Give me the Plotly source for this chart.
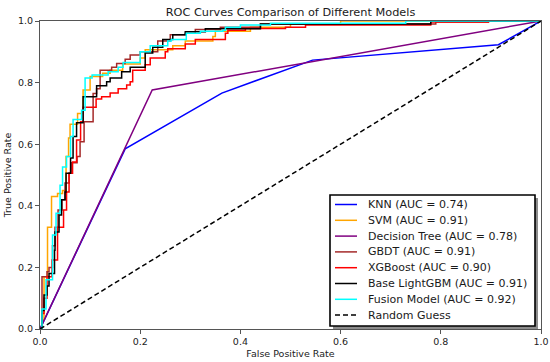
import plotly.graph_objects as go

# ---------------- data ----------------
chart_title = "ROC Curves Comparison of Different Models"
x_title = "False Positive Rate"
y_title = "True Positive Rate"
tick_values = [0.0, 0.2, 0.4, 0.6, 0.8, 1.0]
tick_labels = ["0.0", "0.2", "0.4", "0.6", "0.8", "1.0"]

model_names = ["KNN", "SVM", "Decision Tree", "GBDT", "XGBoost", "Base LightGBM", "Fusion Model"]
auc_values = [0.74, 0.91, 0.78, 0.91, 0.90, 0.91, 0.92]
model_colors = ["#0000ff", "#ffa500", "#800080", "#a52a2a", "#ff0000", "#000000", "#00ffff"]
baseline_name = "Random Guess"

knn_fpr = [0.0, 0.170, 0.363, 0.544, 0.915, 1.0]
knn_tpr = [0.0, 0.585, 0.766, 0.873, 0.923, 1.0]

dt_fpr = [0.0, 0.224, 1.0]
dt_tpr = [0.0, 0.776, 1.0]

svm_fpr = [0.0, 0.004, 0.008, 0.015, 0.023, 0.035, 0.045, 0.052, 0.057, 0.060, 0.075, 0.086, 0.100,
           0.125, 0.140, 0.165, 0.200, 0.210, 0.265, 0.290, 0.345, 0.350, 0.420, 0.500, 0.600, 1.0]
svm_tpr = [0.0, 0.030, 0.170, 0.330, 0.430, 0.440, 0.450, 0.560, 0.620, 0.665, 0.700, 0.776, 0.820,
           0.830, 0.840, 0.860, 0.880, 0.907, 0.920, 0.935, 0.950, 0.967, 0.980, 0.990, 1.000, 1.0]

gbdt_fpr = [0.0, 0.004, 0.014, 0.018, 0.025, 0.030, 0.036, 0.044, 0.050, 0.058, 0.063, 0.074, 0.080,
            0.088, 0.106, 0.113, 0.120, 0.143, 0.153, 0.170, 0.180, 0.200, 0.235, 0.260, 0.290, 0.310,
            0.360, 0.440, 0.790, 0.895, 1.0]
gbdt_tpr = [0.0, 0.170, 0.186, 0.200, 0.270, 0.330, 0.386, 0.420, 0.474, 0.506, 0.540, 0.560, 0.608,
            0.673, 0.765, 0.780, 0.840, 0.850, 0.862, 0.876, 0.890, 0.900, 0.935, 0.955, 0.960, 0.972,
            0.980, 0.990, 0.997, 1.000, 1.0]

xgb_fpr = [0.0, 0.004, 0.008, 0.014, 0.024, 0.035, 0.047, 0.053, 0.058, 0.065, 0.073, 0.081, 0.086,
           0.112, 0.123, 0.140, 0.156, 0.173, 0.180, 0.185, 0.210, 0.220, 0.250, 0.255, 0.290, 0.310,
           0.370, 0.375, 0.410, 0.490, 0.530, 0.780, 0.895, 1.0]
xgb_tpr = [0.0, 0.050, 0.100, 0.170, 0.224, 0.330, 0.386, 0.445, 0.506, 0.542, 0.614, 0.673, 0.720,
           0.747, 0.754, 0.766, 0.780, 0.792, 0.803, 0.840, 0.858, 0.880, 0.900, 0.910, 0.925, 0.940,
           0.960, 0.970, 0.976, 0.980, 0.987, 0.997, 1.000, 1.0]

lgbm_fpr = [0.0, 0.004, 0.008, 0.014, 0.018, 0.029, 0.030, 0.038, 0.043, 0.050, 0.052, 0.061, 0.066,
            0.073, 0.086, 0.113, 0.133, 0.140, 0.163, 0.180, 0.210, 0.225, 0.245, 0.265, 0.290, 0.330,
            0.440, 0.780, 1.0]
lgbm_tpr = [0.0, 0.060, 0.110, 0.140, 0.180, 0.256, 0.315, 0.370, 0.420, 0.445, 0.506, 0.555, 0.625,
            0.670, 0.754, 0.790, 0.803, 0.815, 0.835, 0.850, 0.896, 0.915, 0.940, 0.955, 0.965, 0.975,
            0.990, 1.000, 1.0]

fusion_fpr = [0.0, 0.004, 0.012, 0.025, 0.032, 0.040, 0.045, 0.053, 0.061, 0.066, 0.083, 0.090, 0.104,
              0.136, 0.156, 0.166, 0.200, 0.220, 0.255, 0.262, 0.292, 0.320, 0.365, 0.370, 0.400, 0.460,
              0.730, 1.0]
fusion_tpr = [0.0, 0.065, 0.160, 0.305, 0.376, 0.467, 0.526, 0.560, 0.625, 0.680, 0.710, 0.815, 0.825,
              0.835, 0.850, 0.865, 0.900, 0.920, 0.935, 0.940, 0.960, 0.967, 0.970, 0.980, 0.987, 0.993,
              1.000, 1.0]

baseline_fpr = [0.0, 1.0]
baseline_tpr = [0.0, 1.0]

# ---------------- figure ----------------
W, H = 550, 362
L, R, T, B = 40, 9, 21, 33
FONT = "DejaVu Sans"

curves = [
    (knn_fpr, knn_tpr, "linear"),
    (svm_fpr, svm_tpr, "hv"),
    (dt_fpr, dt_tpr, "linear"),
    (gbdt_fpr, gbdt_tpr, "hv"),
    (xgb_fpr, xgb_tpr, "hv"),
    (lgbm_fpr, lgbm_tpr, "hv"),
    (fusion_fpr, fusion_tpr, "hv"),
]

fig = go.Figure()
legend_labels = []
for (fx, ty, shape), name, auc, col in zip(curves, model_names, auc_values, model_colors):
    label = f"{name} (AUC = {auc:.2f})"
    legend_labels.append((label, col, "solid"))
    fig.add_trace(go.Scatter(x=fx, y=ty, mode="lines", name=label, showlegend=False,
                             line=dict(color=col, width=1.5, shape=shape)))
legend_labels.append((baseline_name, "#000000", "5px,3px"))
fig.add_trace(go.Scatter(x=baseline_fpr, y=baseline_tpr, mode="lines", name=baseline_name,
                         showlegend=False, line=dict(color="#000000", width=1.5, dash="5px,3px")))

pw, ph = W - L - R, H - T - B


def px2x(px):
    return (px - L) / pw


def py2y(py):
    return (H - B - py) / ph


# custom legend (matplotlib style with shadow)
bx0, bx1, by0, by1 = 330, 535, 195, 326
shapes = [
    dict(type="rect", xref="paper", yref="paper", layer="above",
         x0=px2x(bx0 + 3), x1=px2x(bx1 + 3), y0=py2y(by1 + 3), y1=py2y(by0 + 3),
         fillcolor="rgba(0,0,0,0.45)", line=dict(width=0)),
    dict(type="rect", xref="paper", yref="paper", layer="above",
         x0=px2x(bx0), x1=px2x(bx1), y0=py2y(by1), y1=py2y(by0),
         fillcolor="white", line=dict(color="black", width=1.6)),
]
annotations = []
row0, step = 204.5, 15.8
for i, (label, col, dash) in enumerate(legend_labels):
    yy = py2y(row0 + i * step)
    shapes.append(dict(type="line", xref="paper", yref="paper", layer="above",
                       x0=px2x(335), x1=px2x(357), y0=yy, y1=yy,
                       line=dict(color=col, width=1.5, dash=dash)))
    annotations.append(dict(xref="paper", yref="paper", x=px2x(366), y=yy, xanchor="left",
                            yanchor="middle", text=label, showarrow=False,
                            font=dict(family=FONT, size=11, color="#1a1a1a")))

axis_common = dict(range=[0, 1], tickvals=tick_values, ticktext=tick_labels, showgrid=False,
                   zeroline=False, showline=True, mirror=True, linecolor="#555555", linewidth=1,
                   ticks="outside", ticklen=4, tickwidth=1, tickcolor="#555555", automargin=False,
                   tickfont=dict(family=FONT, size=9.5, color="#222222"))

fig.update_layout(
    width=W, height=H,
    margin=dict(l=L, r=R, t=T, b=B, pad=0, autoexpand=False),
    paper_bgcolor="white", plot_bgcolor="white",
    title=dict(text=chart_title, x=(L + pw / 2) / W, xanchor="center", y=1 - 12.5 / H,
               yanchor="middle", yref="container", automargin=False,
               font=dict(family=FONT, size=11.3, color="#1a1a1a")),
    xaxis=dict(**axis_common, title=dict(text=x_title, standoff=3,
                                         font=dict(family=FONT, size=9.5, color="#222222"))),
    yaxis=dict(**axis_common, title=dict(text=y_title, standoff=4,
                                         font=dict(family=FONT, size=9.5, color="#222222"))),
    shapes=shapes,
    annotations=annotations,
    showlegend=False,
    hovermode=False,
)

fig.write_html("out.html", config={"displayModeBar": False, "staticPlot": True},
               post_script="document.body.style.margin='0';document.body.style.padding='0';")
